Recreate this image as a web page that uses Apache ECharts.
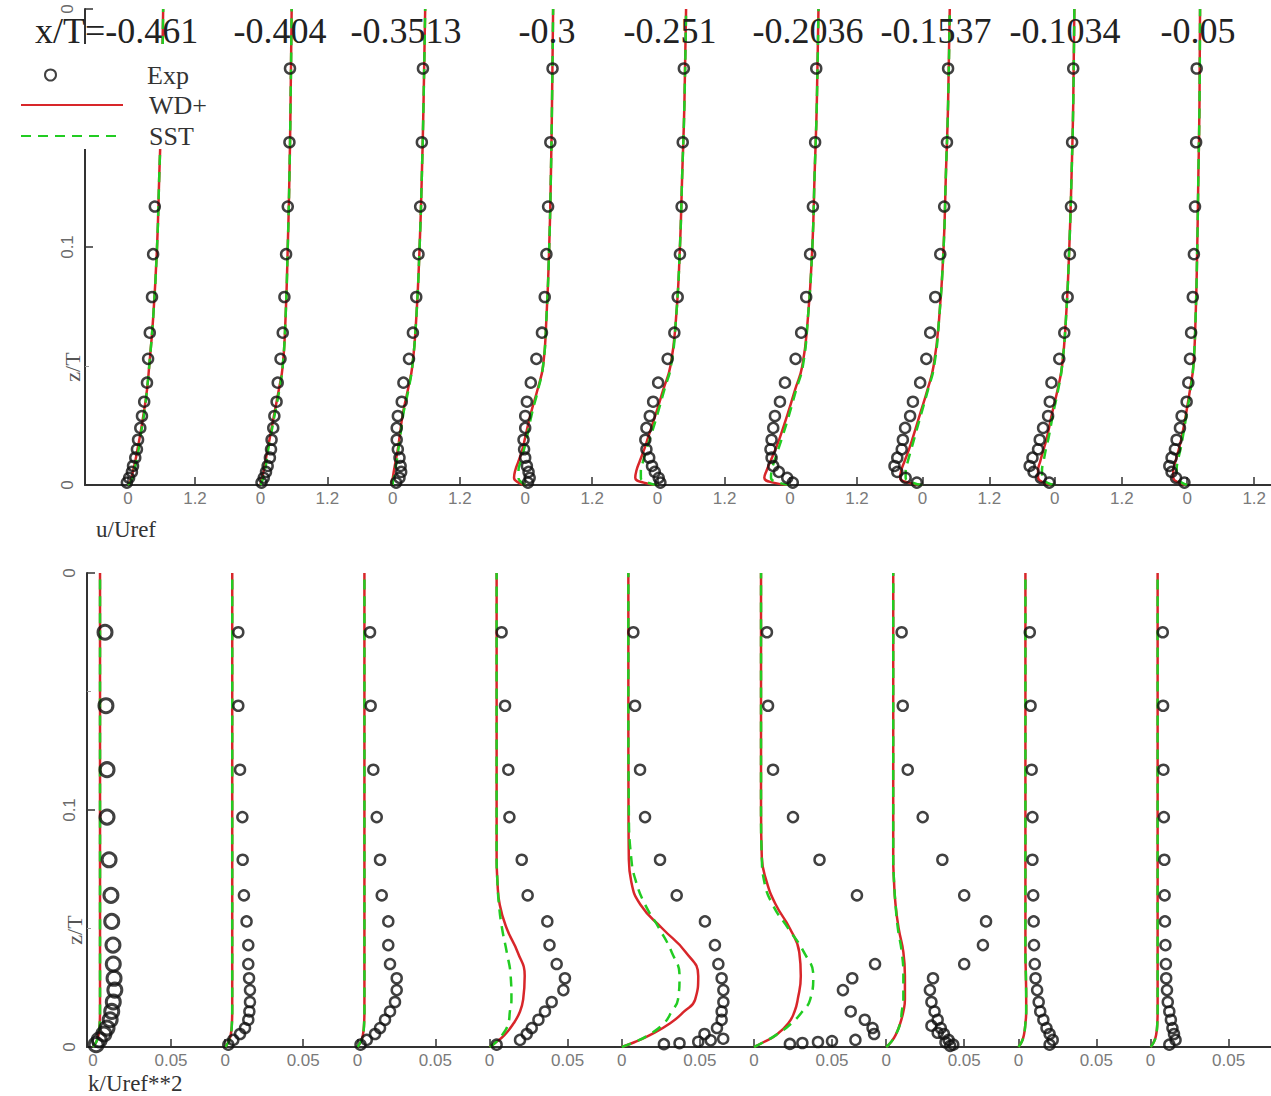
<!DOCTYPE html>
<html><head><meta charset="utf-8">
<script src="https://cdn.jsdelivr.net/npm/echarts@6/dist/echarts.min.js"></script>
<style>html,body{margin:0;padding:0;background:#fff}#c{width:1271px;height:1096px}</style>
</head><body><div id="c"></div>
<script>
// ---------------- DATA ----------------
const stationLabels = ['x/T=-0.461','-0.404','-0.3513','-0.3','-0.251','-0.2036','-0.1537','-0.1034','-0.05'];
const uTicks = [0, 1.2];
const kTicks = [0, 0.05];
const zTicks = [0, 0.1, 0.2];
const zTickLabels = ['0', '0.1', '0'];

// measurement heights (shared by all stations)
const zExp = [0.175, 0.144, 0.117, 0.097, 0.079, 0.064, 0.053, 0.043, 0.035, 0.029, 0.024, 0.019, 0.015, 0.0115, 0.008, 0.0055, 0.003, 0.001];
// computed-profile heights
const zLineU = [0, 0.001, 0.003, 0.006, 0.01, 0.015, 0.02, 0.03, 0.04, 0.05, 0.07, 0.1, 0.13, 0.16, 0.2];
const zLineK = [0, 0.002, 0.005, 0.01, 0.015, 0.02, 0.03, 0.04, 0.05, 0.06, 0.07, 0.08, 0.1, 0.15, 0.2];

// u/Uref — experiment
const uExp = [
  [0.56, 0.52, 0.48, 0.45, 0.43, 0.39, 0.36, 0.34, 0.29, 0.25, 0.22, 0.18, 0.16, 0.13, 0.09, 0.07, 0.02, -0.02],
  [0.53, 0.52, 0.49, 0.46, 0.43, 0.40, 0.36, 0.31, 0.29, 0.25, 0.23, 0.20, 0.19, 0.17, 0.13, 0.10, 0.06, 0.02],
  [0.54, 0.52, 0.49, 0.46, 0.42, 0.36, 0.29, 0.19, 0.16, 0.09, 0.07, 0.07, 0.09, 0.12, 0.14, 0.15, 0.12, 0.06],
  [0.49, 0.45, 0.41, 0.38, 0.35, 0.30, 0.20, 0.10, 0.03, 0.0, 0.0, -0.03, -0.02, 0.0, 0.03, 0.06, 0.08, 0.05],
  [0.47, 0.45, 0.43, 0.40, 0.36, 0.30, 0.18, 0.01, -0.08, -0.14, -0.2, -0.22, -0.2, -0.15, -0.1, -0.05, 0.02, 0.05],
  [0.47, 0.45, 0.41, 0.36, 0.29, 0.20, 0.10, -0.09, -0.18, -0.27, -0.3, -0.33, -0.35, -0.33, -0.3, -0.2, -0.05, 0.05],
  [0.46, 0.44, 0.39, 0.32, 0.23, 0.14, 0.07, -0.04, -0.17, -0.22, -0.31, -0.35, -0.37, -0.45, -0.5, -0.45, -0.3, -0.1],
  [0.33, 0.31, 0.29, 0.27, 0.23, 0.17, 0.08, -0.06, -0.09, -0.12, -0.21, -0.27, -0.3, -0.4, -0.45, -0.38, -0.25, -0.1],
  [0.17, 0.16, 0.14, 0.12, 0.10, 0.07, 0.05, 0.02, -0.01, -0.1, -0.13, -0.19, -0.22, -0.28, -0.32, -0.28, -0.2, -0.05]
];
// u/Uref — WD+
const uWD = [
  [0, 0.03, 0.06, 0.09, 0.13, 0.17, 0.21, 0.28, 0.34, 0.38, 0.45, 0.52, 0.56, 0.6, 0.63],
  [0, 0.01, 0.03, 0.06, 0.09, 0.13, 0.17, 0.25, 0.33, 0.4, 0.45, 0.49, 0.52, 0.54, 0.56],
  [0, -0.02, 0.0, 0.02, 0.05, 0.09, 0.12, 0.18, 0.27, 0.35, 0.42, 0.48, 0.52, 0.55, 0.58],
  [0, -0.12, -0.2, -0.18, -0.12, -0.05, 0.0, 0.1, 0.22, 0.32, 0.38, 0.43, 0.46, 0.48, 0.5],
  [0, -0.25, -0.4, -0.38, -0.32, -0.24, -0.17, -0.03, 0.1, 0.23, 0.33, 0.4, 0.44, 0.48, 0.51],
  [0, -0.3, -0.46, -0.42, -0.35, -0.26, -0.18, -0.04, 0.09, 0.22, 0.32, 0.4, 0.44, 0.48, 0.51],
  [0, -0.25, -0.4, -0.38, -0.32, -0.24, -0.17, -0.04, 0.09, 0.2, 0.3, 0.38, 0.42, 0.46, 0.49],
  [0, -0.2, -0.3, -0.3, -0.26, -0.2, -0.14, -0.05, 0.05, 0.13, 0.2, 0.26, 0.3, 0.33, 0.35],
  [0, -0.15, -0.25, -0.25, -0.21, -0.15, -0.1, -0.02, 0.05, 0.11, 0.15, 0.18, 0.2, 0.22, 0.23]
];
// u/Uref — SST
const uSST = [
  [0, 0.04, 0.08, 0.11, 0.15, 0.19, 0.22, 0.29, 0.34, 0.38, 0.45, 0.52, 0.56, 0.6, 0.63],
  [0, 0.02, 0.05, 0.08, 0.11, 0.14, 0.18, 0.26, 0.34, 0.4, 0.45, 0.49, 0.52, 0.54, 0.56],
  [0, 0.0, 0.02, 0.04, 0.07, 0.1, 0.13, 0.19, 0.28, 0.35, 0.42, 0.48, 0.52, 0.55, 0.58],
  [0, -0.06, -0.12, -0.12, -0.08, -0.02, 0.03, 0.12, 0.23, 0.32, 0.38, 0.43, 0.46, 0.48, 0.5],
  [0, -0.18, -0.3, -0.3, -0.26, -0.2, -0.13, 0.0, 0.12, 0.24, 0.33, 0.4, 0.44, 0.48, 0.51],
  [0, -0.2, -0.34, -0.33, -0.28, -0.21, -0.14, -0.01, 0.11, 0.23, 0.32, 0.4, 0.44, 0.48, 0.51],
  [0, -0.18, -0.3, -0.3, -0.26, -0.2, -0.14, -0.02, 0.1, 0.21, 0.3, 0.38, 0.42, 0.46, 0.49],
  [0, -0.14, -0.22, -0.23, -0.2, -0.16, -0.11, -0.03, 0.06, 0.13, 0.2, 0.26, 0.3, 0.33, 0.35],
  [0, -0.1, -0.18, -0.19, -0.17, -0.12, -0.08, -0.01, 0.06, 0.11, 0.15, 0.18, 0.2, 0.22, 0.23]
];

// k/Uref**2 — experiment (null = no point at that height)
const kExp = [
  [0.0077, 0.0083, 0.009, 0.009, 0.0103, 0.0115, 0.012, 0.0128, 0.013, 0.0135, 0.014, 0.013, 0.012, 0.011, 0.009, 0.007, 0.004, 0.002],
  [0.0084, 0.0084, 0.0095, 0.011, 0.0112, 0.012, 0.0137, 0.0148, 0.0148, 0.0153, 0.0159, 0.0159, 0.0155, 0.0148, 0.0127, 0.0095, 0.0052, 0.002],
  [0.0081, 0.0085, 0.0102, 0.0124, 0.0145, 0.0156, 0.0198, 0.0198, 0.0209, 0.0252, 0.0252, 0.0241, 0.0209, 0.0177, 0.0145, 0.0113, 0.006, 0.002],
  [0.0077, 0.0099, 0.012, 0.0127, 0.0206, 0.0244, 0.037, 0.0384, 0.043, 0.0483, 0.0473, 0.0398, 0.0355, 0.0313, 0.027, 0.0238, 0.0195, 0.0045],
  [0.0074, 0.0085, 0.0117, 0.0149, 0.0245, 0.0352, 0.0533, 0.0597, 0.0619, 0.064, 0.0651, 0.0651, 0.064, 0.064, 0.061, 0.053, null, null],
  [0.0083, 0.009, 0.0122, 0.025, 0.042, 0.066, null, null, 0.0776, 0.063, 0.057, null, 0.062, 0.071, 0.076, 0.077, 0.065, null],
  [0.0099, 0.0106, 0.0138, 0.0234, 0.036, 0.050, 0.064, 0.062, 0.05, 0.03, 0.028, 0.029, 0.031, 0.033, 0.035, 0.037, 0.04, 0.043],
  [0.0073, 0.0078, 0.0085, 0.009, 0.009, 0.0095, 0.0098, 0.01, 0.0105, 0.011, 0.012, 0.013, 0.014, 0.016, 0.018, 0.02, 0.022, 0.02],
  [0.0078, 0.008, 0.0082, 0.0085, 0.0088, 0.009, 0.0092, 0.0095, 0.0098, 0.01, 0.0105, 0.011, 0.012, 0.013, 0.014, 0.015, 0.016, 0.012]
];
// extra near-wall measurement points [k, z] for some stations
const kExpExtra = {
  4: [[0.065, 0.0035], [0.057, 0.0028], [0.049, 0.0022], [0.037, 0.0016], [0.027, 0.0012]],
  5: [[0.05, 0.0025], [0.041, 0.0021], [0.031, 0.0017], [0.023, 0.0013]],
  6: [[0.038, 0.002], [0.041, 0.0005], [0.033, 0.006], [0.029, 0.009]]
};
// k/Uref**2 — WD+
const kWD = [
  [0, 0.002, 0.0035, 0.0043, 0.0045, 0.0045, 0.0045, 0.0045, 0.0045, 0.0045, 0.0045, 0.0045, 0.0045, 0.0045, 0.0045],
  [0, 0.002, 0.0035, 0.0043, 0.0045, 0.0045, 0.0045, 0.0045, 0.0045, 0.0045, 0.0045, 0.0045, 0.0045, 0.0045, 0.0045],
  [0, 0.002, 0.0035, 0.0043, 0.0045, 0.0045, 0.0045, 0.0045, 0.0045, 0.0045, 0.0045, 0.0045, 0.0045, 0.0045, 0.0045],
  [0, 0.004, 0.0095, 0.0154, 0.0195, 0.0215, 0.0225, 0.018, 0.011, 0.0065, 0.005, 0.0045, 0.0045, 0.0045, 0.0045],
  [0, 0.008, 0.018, 0.031, 0.04, 0.047, 0.049, 0.041, 0.026, 0.012, 0.006, 0.0045, 0.0043, 0.0042, 0.0042],
  [0, 0.006, 0.014, 0.022, 0.026, 0.028, 0.03, 0.029, 0.023, 0.014, 0.008, 0.005, 0.0045, 0.0045, 0.0045],
  [0, 0.003, 0.006, 0.009, 0.011, 0.012, 0.012, 0.011, 0.008, 0.006, 0.005, 0.0045, 0.0045, 0.0045, 0.0045],
  [0, 0.002, 0.0035, 0.0045, 0.005, 0.005, 0.0048, 0.0045, 0.0045, 0.0045, 0.0045, 0.0045, 0.0045, 0.0045, 0.0045],
  [0, 0.002, 0.0035, 0.0043, 0.0045, 0.0045, 0.0045, 0.0045, 0.0045, 0.0045, 0.0045, 0.0045, 0.0045, 0.0045, 0.0045]
];
// k/Uref**2 — SST
const kSST = [
  [0, 0.002, 0.0035, 0.0043, 0.0045, 0.0045, 0.0045, 0.0045, 0.0045, 0.0045, 0.0045, 0.0045, 0.0045, 0.0045, 0.0045],
  [0, 0.002, 0.0035, 0.0043, 0.0045, 0.0045, 0.0045, 0.0045, 0.0045, 0.0045, 0.0045, 0.0045, 0.0045, 0.0045, 0.0045],
  [0, 0.002, 0.0035, 0.0043, 0.0045, 0.0045, 0.0045, 0.0045, 0.0045, 0.0045, 0.0045, 0.0045, 0.0045, 0.0045, 0.0045],
  [0, 0.004, 0.008, 0.012, 0.013, 0.014, 0.0135, 0.011, 0.008, 0.006, 0.005, 0.0045, 0.0045, 0.0045, 0.0045],
  [0, 0.008, 0.017, 0.027, 0.032, 0.036, 0.037, 0.032, 0.024, 0.015, 0.009, 0.006, 0.0045, 0.0042, 0.0042],
  [0, 0.006, 0.014, 0.024, 0.031, 0.036, 0.038, 0.032, 0.022, 0.012, 0.0065, 0.005, 0.0045, 0.0045, 0.0045],
  [0, 0.003, 0.006, 0.009, 0.01, 0.011, 0.011, 0.01, 0.0075, 0.006, 0.005, 0.0045, 0.0045, 0.0045, 0.0045],
  [0, 0.002, 0.0035, 0.0045, 0.005, 0.005, 0.0048, 0.0045, 0.0045, 0.0045, 0.0045, 0.0045, 0.0045, 0.0045, 0.0045],
  [0, 0.002, 0.0035, 0.0043, 0.0045, 0.0045, 0.0045, 0.0045, 0.0045, 0.0045, 0.0045, 0.0045, 0.0045, 0.0045, 0.0045]
];

// ---------------- LAYOUT ----------------
const rows = [
  { axisX: 85, zeroX: 128, pitch: 132.4, pxPerUnit: 67 / 1.2, top: 9, bottom: 485, ticks: uTicks,
    exp: uExp, wd: uWD, sst: uSST, zLine: zLineU, extra: {} },
  { axisX: 87, zeroX: 93, pitch: 132.2, pxPerUnit: 78 / 0.05, top: 573, bottom: 1047, ticks: kTicks,
    exp: kExp, wd: kWD, sst: kSST, zLine: zLineK, extra: kExpExtra }
];
const titleX = [35, 280, 406, 547, 670, 808, 936, 1065, 1198];
const RED = '#d8262a', GREEN = '#22cc22', INK = '#333';
const serif = '"Liberation Serif", "DejaVu Serif", serif';
const sans = '"Liberation Sans", Arial, sans-serif';

const grids = [], xAxes = [], yAxes = [], series = [];
rows.forEach((row, r) => {
  const xmin = -(row.zeroX - row.axisX) / row.pxPerUnit;
  const xmax = xmin + row.pitch / row.pxPerUnit;
  for (let i = 0; i < 9; i++) {
    const g = grids.length;
    grids.push({ left: row.axisX + i * row.pitch, top: row.top, width: row.pitch, height: row.bottom - row.top,
      containLabel: false, outerBoundsMode: 'none' });
    xAxes.push({ type: 'value', gridIndex: g, min: xmin, max: xmax,
      axisLine: { show: true, onZero: false, lineStyle: { color: INK, width: 2 } },
      axisTick: { show: true, inside: true, length: 8, customValues: row.ticks, lineStyle: { color: INK, width: 1.5 } },
      axisLabel: { customValues: row.ticks, color: '#7a7a7a', fontSize: 17, fontFamily: sans, margin: 5 },
      splitLine: { show: false } });
    yAxes.push({ type: 'value', gridIndex: g, min: 0, max: 0.2, interval: 0.1, show: i === 0,
      axisLine: { show: true, onZero: false, lineStyle: { color: INK, width: 2 } },
      axisTick: { show: true, inside: true, length: 8, lineStyle: { color: INK, width: 1.5 } },
      minorTick: { show: true, splitNumber: 2, length: 4, lineStyle: { color: '#999' } },
      axisLabel: { rotate: 90, margin: 9, color: '#6a6a6a', fontSize: 17, fontFamily: sans,
        formatter: v => zTickLabels[zTicks.indexOf(Math.round(v * 10) / 10)] },
      splitLine: { show: false }, minorSplitLine: { show: false } });
    const lineData = vals => row.zLine.map((z, j) => [vals[j], z]);
    series.push({ name: 'WD+', type: 'line', xAxisIndex: g, yAxisIndex: g, data: lineData(row.wd[i]),
      showSymbol: false, symbol: 'none', smooth: 0.5, z: 2,
      lineStyle: { color: RED, width: 2.5 }, itemStyle: { color: RED } });
    series.push({ name: 'SST', type: 'line', xAxisIndex: g, yAxisIndex: g, data: lineData(row.sst[i]),
      showSymbol: false, symbol: 'none', smooth: 0.5, z: 3,
      lineStyle: { color: GREEN, width: 2.5, type: [10, 7] }, itemStyle: { color: GREEN } });
    const pts = zExp.map((z, j) => row.exp[i][j] == null ? null : [row.exp[i][j], z]).filter(Boolean)
      .concat(row.extra[i] || []);
    const big = (r === 1 && i === 0);
    series.push({ name: 'Exp', type: 'scatter', xAxisIndex: g, yAxisIndex: g, data: pts, z: 4,
      symbol: 'circle', symbolSize: big ? 14 : 10,
      itemStyle: { color: 'rgba(0,0,0,0)', borderColor: '#111', borderWidth: big ? 3 : 2.5 } });
  }
});

const graphic = [];
stationLabels.forEach((s, i) => {
  graphic.push({ type: 'text', z: 10, x: titleX[i], y: 31,
    style: { text: s, font: '36px ' + serif, fill: '#222', align: i === 0 ? 'left' : 'center',
      textAlign: i === 0 ? 'left' : 'center', verticalAlign: 'middle', textVerticalAlign: 'middle' } });
});
[['u/Uref', 96, 529], ['k/Uref**2', 88, 1083]].forEach(([t, x, y]) => {
  graphic.push({ type: 'text', z: 10, x, y,
    style: { text: t, font: '23px ' + serif, fill: '#333', align: 'left', textAlign: 'left',
      verticalAlign: 'middle', textVerticalAlign: 'middle' } });
});
[[72, 367], [74, 930]].forEach(([x, y]) => {
  graphic.push({ type: 'text', z: 10, x, y, rotation: Math.PI / 2,
    style: { text: 'z/T', font: '22px ' + serif, fill: '#555', align: 'center', textAlign: 'center',
      verticalAlign: 'middle', textVerticalAlign: 'middle' } });
});

const chart = echarts.init(document.getElementById('c'), null, { renderer: 'svg', width: 1271, height: 1096 });
chart.setOption({
  backgroundColor: '#fff',
  animation: false,
  grid: grids, xAxis: xAxes, yAxis: yAxes, series,
  legend: [
    { data: ['Exp'], left: 44, top: 62, padding: 0, itemWidth: 11, itemHeight: 11, z: 7,
      textStyle: { fontFamily: serif, fontSize: 26, color: '#333', padding: [0, 0, 0, 86] } },
    { data: ['WD+', 'SST'], orient: 'vertical', left: 15, top: 44, padding: [48, 6, 0, 5], itemGap: 5,
      itemWidth: 102, itemHeight: 14, z: 6, itemStyle: { opacity: 0 }, backgroundColor: '#fff',
      textStyle: { fontFamily: serif, fontSize: 26, color: '#333', padding: [0, 0, 0, 21] } }
  ],
  graphic
});
</script>
</body></html>
